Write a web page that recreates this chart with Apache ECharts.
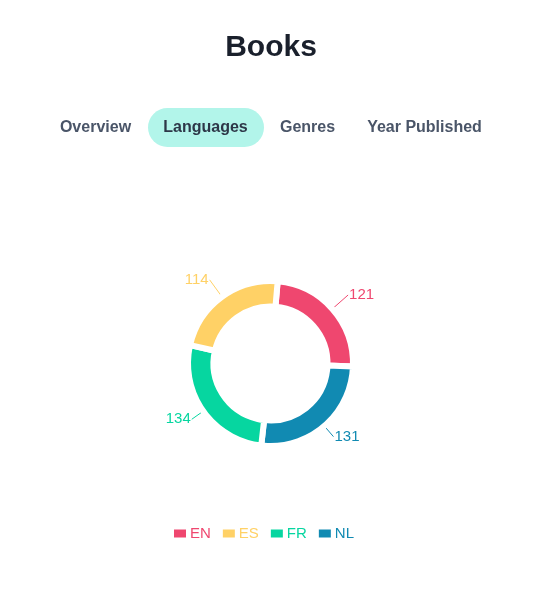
<!DOCTYPE html>
<html>
<head>
<meta charset="utf-8">
<script src="https://cdn.jsdelivr.net/npm/echarts@6/dist/echarts.min.js"></script>
<style>
html,body{margin:0;padding:0;background:#fff;}
#chart{width:557px;height:602px;}
</style>
</head>
<body>
<div id="chart"></div>
<script>
const languages = ['EN', 'NL', 'FR', 'ES'];
const counts = [121, 131, 134, 114];
const legendOrder = ['EN', 'ES', 'FR', 'NL'];
const colors = { EN: '#ef476f', ES: '#ffd166', FR: '#06d6a0', NL: '#118ab2' };
const tabs = ['Overview', 'Languages', 'Genres', 'Year Published'];
const tabCenters = [95.5, 205.5, 307.5, 424.5];
const activeTab = 'Languages';
// label leader line lengths (style)
const leaderLength = { EN: 21, ES: 21, FR: 14, NL: 14 };

const chart = echarts.init(document.getElementById('chart'), null, { renderer: 'canvas' });
const font = 'Liberation Sans, Arial, Helvetica, sans-serif';

const graphics = [{
  type: 'text', x: 271, y: 48, z: 2,
  style: { text: 'Books', font: 'bold 30px ' + font, fill: '#1a202c',
    textAlign: 'center', textVerticalAlign: 'middle' }
}];
tabs.forEach((t, i) => {
  if (t === activeTab) {
    graphics.push({
      type: 'rect', shape: { x: 148, y: 108, width: 116, height: 39, r: 19.5 },
      style: { fill: '#b2f5ea' }, z: 1
    });
  }
  graphics.push({
    type: 'text', x: tabCenters[i], y: 127.5, z: 2,
    style: { text: t, font: 'bold 16px ' + font, fill: t === activeTab ? '#2d3748' : '#4a5568',
      textAlign: 'center', textVerticalAlign: 'middle' }
  });
});

chart.setOption({
  animation: false,
  graphic: graphics,
  legend: {
    top: 526, left: 172, padding: 0, itemWidth: 14, itemHeight: 10, itemGap: 10,
    icon: 'rect',
    data: legendOrder.map(n => ({ name: n, textStyle: { color: colors[n] } })),
    textStyle: { fontSize: 15, fontFamily: font, padding: [0, 0, 0, -2] }
  },
  series: [{
    type: 'pie',
    center: [270.5, 363.5],
    radius: [57, 82.5],
    startAngle: 85,
    clockwise: true,
    itemStyle: { borderColor: '#fff', borderWidth: 6 },
    label: {
      show: true, formatter: '{c}', fontSize: 15, fontFamily: font,
      color: 'inherit', distanceToLabelLine: 1
    },
    labelLine: { show: true, length: 21, length2: 0, lineStyle: { width: 1 } },
    emphasis: { disabled: true },
    data: languages.map((n, i) => ({
      name: n, value: counts[i],
      itemStyle: { color: colors[n] },
      label: { color: colors[n] },
      labelLine: { length: leaderLength[n], length2: 0 }
    }))
  }]
});
</script>
</body>
</html>
